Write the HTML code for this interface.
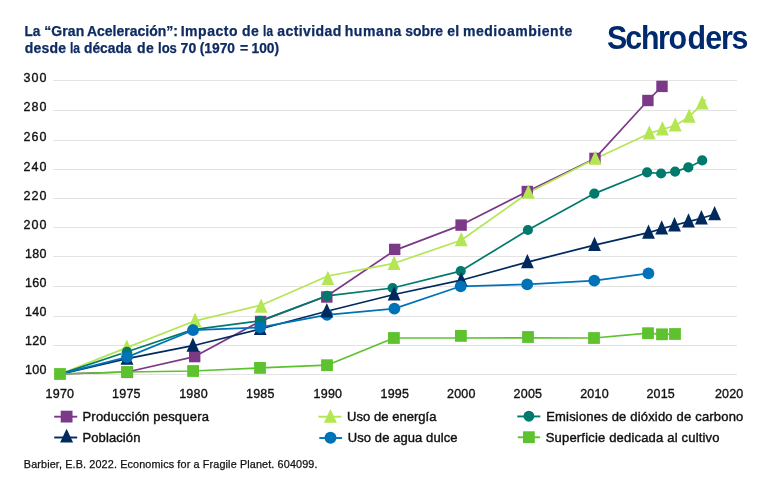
<!DOCTYPE html>
<html lang="es"><head><meta charset="utf-8"><title>La Gran Aceleración</title>
<style>html,body{margin:0;padding:0;background:#fff}svg{display:block}</style></head>
<body>
<svg width="771" height="493" viewBox="0 0 771 493">
<rect width="771" height="493" fill="#fff"/>
<line x1="52.5" x2="736.7" y1="80.5" y2="80.5" stroke="#e3e3e3" stroke-width="1" shape-rendering="crispEdges"/>
<line x1="52.5" x2="736.7" y1="110.5" y2="110.5" stroke="#e3e3e3" stroke-width="1" shape-rendering="crispEdges"/>
<line x1="52.5" x2="736.7" y1="140.5" y2="140.5" stroke="#e3e3e3" stroke-width="1" shape-rendering="crispEdges"/>
<line x1="52.5" x2="736.7" y1="169.5" y2="169.5" stroke="#e3e3e3" stroke-width="1" shape-rendering="crispEdges"/>
<line x1="52.5" x2="736.7" y1="198.5" y2="198.5" stroke="#e3e3e3" stroke-width="1" shape-rendering="crispEdges"/>
<line x1="52.5" x2="736.7" y1="227.5" y2="227.5" stroke="#e3e3e3" stroke-width="1" shape-rendering="crispEdges"/>
<line x1="52.5" x2="736.7" y1="256.5" y2="256.5" stroke="#e3e3e3" stroke-width="1" shape-rendering="crispEdges"/>
<line x1="52.5" x2="736.7" y1="286.5" y2="286.5" stroke="#e3e3e3" stroke-width="1" shape-rendering="crispEdges"/>
<line x1="52.5" x2="736.7" y1="316.5" y2="316.5" stroke="#e3e3e3" stroke-width="1" shape-rendering="crispEdges"/>
<line x1="52.5" x2="736.7" y1="345.5" y2="345.5" stroke="#e3e3e3" stroke-width="1" shape-rendering="crispEdges"/>
<line x1="52.5" x2="736.7" y1="374.5" y2="374.5" stroke="#e3e3e3" stroke-width="1" shape-rendering="crispEdges"/>
<polyline points="60.0,374.0 127.0,372.0 194.7,356.6 260.4,321.1 327.0,296.0 394.7,250.4 461.1,225.1 527.3,191.5 595.0,158.4 647.9,100.5 662.0,86.4" fill="none" stroke="#7b3988" stroke-width="1.7" stroke-linejoin="round"/>
<polyline points="60.1,374.1 126.8,347.6 195.1,320.8 261.1,305.2 327.9,276.0 394.1,263.3 461.2,240.2 528.4,192.7 595.2,158.7 649.3,133.4 662.4,129.3 675.3,125.6 689.2,116.7 702.2,103.6 705.6,99.5" fill="none" stroke="#b4e653" stroke-width="1.7" stroke-linejoin="round"/>
<polyline points="60.1,374.1 127.0,351.8 193.0,329.6 260.2,320.9 327.0,295.8 392.6,288.0 460.7,271.1 527.9,230.0 594.3,193.6 647.1,172.3 661.1,173.5 675.1,171.6 688.3,167.4 702.2,160.4" fill="none" stroke="#007a6c" stroke-width="1.7" stroke-linejoin="round"/>
<polyline points="60.1,374.1 127.0,358.6 192.9,345.7 260.2,329.0 326.8,311.3 394.1,294.5 461.2,280.2 527.4,262.1 594.5,245.1 648.5,232.7 661.7,228.6 674.5,225.3 688.5,221.6 701.4,218.3 714.6,214.2" fill="none" stroke="#002a5e" stroke-width="1.7" stroke-linejoin="round"/>
<polyline points="60.1,374.1 127.0,357.1 193.0,330.2 260.2,327.4 327.0,314.8 394.4,308.6 460.7,286.3 527.2,284.4 594.3,280.6 648.4,273.4" fill="none" stroke="#0072b8" stroke-width="1.7" stroke-linejoin="round"/>
<polyline points="60.0,374.0 127.0,372.0 193.1,371.0 260.0,367.9 327.0,365.2 393.9,338.0 460.9,338.0 528.0,337.8 594.0,338.0 648.0,333.2 662.0,334.3 675.0,334.0" fill="none" stroke="#5ec22f" stroke-width="1.7" stroke-linejoin="round"/>
<rect x="54.10" y="368.10" width="11.8" height="11.8" fill="#5ec22f"/>
<rect x="121.70" y="366.70" width="11.4" height="11.4" fill="#7b3988"/>
<polygon points="126.80,339.40 133.20,353.70 120.40,353.70" fill="#b4e653"/>
<circle cx="127.00" cy="351.80" r="5.1" fill="#007a6c"/>
<polygon points="127.00,350.40 133.40,364.70 120.60,364.70" fill="#002a5e"/>
<circle cx="127.00" cy="357.10" r="5.9" fill="#0072b8"/>
<rect x="121.10" y="366.10" width="11.8" height="11.8" fill="#5ec22f"/>
<rect x="189.00" y="350.90" width="11.4" height="11.4" fill="#7b3988"/>
<polygon points="195.10,312.60 201.50,326.90 188.70,326.90" fill="#b4e653"/>
<circle cx="193.00" cy="329.60" r="5.1" fill="#007a6c"/>
<polygon points="192.90,337.50 199.30,351.80 186.50,351.80" fill="#002a5e"/>
<circle cx="193.00" cy="330.20" r="5.9" fill="#0072b8"/>
<rect x="187.20" y="365.10" width="11.8" height="11.8" fill="#5ec22f"/>
<rect x="254.90" y="315.80" width="11.4" height="11.4" fill="#7b3988"/>
<polygon points="261.10,298.40 267.50,312.70 254.70,312.70" fill="#b4e653"/>
<circle cx="260.20" cy="320.90" r="5.1" fill="#007a6c"/>
<polygon points="260.20,320.80 266.60,335.10 253.80,335.10" fill="#002a5e"/>
<circle cx="260.20" cy="327.40" r="5.9" fill="#0072b8"/>
<rect x="254.10" y="362.00" width="11.8" height="11.8" fill="#5ec22f"/>
<rect x="321.10" y="291.30" width="11.4" height="11.4" fill="#7b3988"/>
<polygon points="327.90,270.80 334.30,285.10 321.50,285.10" fill="#b4e653"/>
<circle cx="327.00" cy="295.80" r="5.1" fill="#007a6c"/>
<circle cx="327.00" cy="314.80" r="5.9" fill="#0072b8"/>
<polygon points="326.80,303.10 333.20,317.40 320.40,317.40" fill="#002a5e"/>
<rect x="321.10" y="359.30" width="11.8" height="11.8" fill="#5ec22f"/>
<rect x="389.00" y="243.70" width="11.4" height="11.4" fill="#7b3988"/>
<polygon points="394.10,255.60 400.50,269.90 387.70,269.90" fill="#b4e653"/>
<circle cx="392.60" cy="288.00" r="5.1" fill="#007a6c"/>
<polygon points="394.10,286.30 400.50,300.60 387.70,300.60" fill="#002a5e"/>
<circle cx="394.40" cy="308.60" r="5.9" fill="#0072b8"/>
<rect x="388.00" y="332.10" width="11.8" height="11.8" fill="#5ec22f"/>
<rect x="455.40" y="219.40" width="11.4" height="11.4" fill="#7b3988"/>
<polygon points="461.20,232.00 467.60,246.30 454.80,246.30" fill="#b4e653"/>
<circle cx="460.70" cy="271.10" r="5.1" fill="#007a6c"/>
<polygon points="461.20,272.00 467.60,286.30 454.80,286.30" fill="#002a5e"/>
<circle cx="460.70" cy="286.30" r="5.9" fill="#0072b8"/>
<rect x="455.00" y="330.00" width="11.8" height="11.8" fill="#5ec22f"/>
<rect x="521.60" y="185.80" width="11.4" height="11.4" fill="#7b3988"/>
<polygon points="528.40,184.40 534.80,198.70 522.00,198.70" fill="#b4e653"/>
<circle cx="527.90" cy="230.00" r="5.1" fill="#007a6c"/>
<polygon points="527.40,253.90 533.80,268.20 521.00,268.20" fill="#002a5e"/>
<circle cx="527.20" cy="284.40" r="5.9" fill="#0072b8"/>
<rect x="522.10" y="331.10" width="11.8" height="11.8" fill="#5ec22f"/>
<rect x="589.30" y="152.70" width="11.4" height="11.4" fill="#7b3988"/>
<polygon points="595.20,150.40 601.60,164.70 588.80,164.70" fill="#b4e653"/>
<circle cx="594.30" cy="193.60" r="5.1" fill="#007a6c"/>
<polygon points="594.50,236.80 600.90,251.10 588.10,251.10" fill="#002a5e"/>
<circle cx="594.30" cy="280.60" r="5.9" fill="#0072b8"/>
<rect x="588.10" y="332.10" width="11.8" height="11.8" fill="#5ec22f"/>
<rect x="642.20" y="94.80" width="11.4" height="11.4" fill="#7b3988"/>
<polygon points="649.30,125.20 655.70,139.50 642.90,139.50" fill="#b4e653"/>
<circle cx="647.10" cy="172.30" r="5.1" fill="#007a6c"/>
<polygon points="648.50,224.40 654.90,238.70 642.10,238.70" fill="#002a5e"/>
<circle cx="648.40" cy="273.40" r="5.9" fill="#0072b8"/>
<rect x="642.10" y="327.30" width="11.8" height="11.8" fill="#5ec22f"/>
<rect x="656.30" y="80.70" width="11.4" height="11.4" fill="#7b3988"/>
<polygon points="662.40,121.10 668.80,135.40 656.00,135.40" fill="#b4e653"/>
<circle cx="661.10" cy="173.50" r="5.1" fill="#007a6c"/>
<polygon points="661.70,220.30 668.10,234.60 655.30,234.60" fill="#002a5e"/>
<rect x="656.10" y="328.40" width="11.8" height="11.8" fill="#5ec22f"/>
<polygon points="675.30,117.30 681.70,131.60 668.90,131.60" fill="#b4e653"/>
<circle cx="675.10" cy="171.60" r="5.1" fill="#007a6c"/>
<polygon points="674.50,217.10 680.90,231.40 668.10,231.40" fill="#002a5e"/>
<rect x="669.10" y="328.10" width="11.8" height="11.8" fill="#5ec22f"/>
<polygon points="689.20,108.40 695.60,122.70 682.80,122.70" fill="#b4e653"/>
<circle cx="688.30" cy="167.40" r="5.1" fill="#007a6c"/>
<polygon points="688.50,213.30 694.90,227.60 682.10,227.60" fill="#002a5e"/>
<polygon points="702.20,95.30 708.60,109.60 695.80,109.60" fill="#b4e653"/>
<circle cx="702.20" cy="160.40" r="5.1" fill="#007a6c"/>
<polygon points="701.40,210.10 707.80,224.40 695.00,224.40" fill="#002a5e"/>
<polygon points="714.60,206.00 721.00,220.30 708.20,220.30" fill="#002a5e"/>
<text x="23.5" y="81.9" font-family="Liberation Sans, Arial, sans-serif" font-size="12.5" fill="#111" stroke="#111" stroke-width="0.35" textLength="22.9">300</text>
<text x="23.5" y="111.0" font-family="Liberation Sans, Arial, sans-serif" font-size="12.5" fill="#111" stroke="#111" stroke-width="0.35" textLength="22.9">280</text>
<text x="23.5" y="141.0" font-family="Liberation Sans, Arial, sans-serif" font-size="12.5" fill="#111" stroke="#111" stroke-width="0.35" textLength="22.9">260</text>
<text x="23.5" y="171.0" font-family="Liberation Sans, Arial, sans-serif" font-size="12.5" fill="#111" stroke="#111" stroke-width="0.35" textLength="22.9">240</text>
<text x="23.5" y="199.8" font-family="Liberation Sans, Arial, sans-serif" font-size="12.5" fill="#111" stroke="#111" stroke-width="0.35" textLength="22.9">220</text>
<text x="23.5" y="229.0" font-family="Liberation Sans, Arial, sans-serif" font-size="12.5" fill="#111" stroke="#111" stroke-width="0.35" textLength="22.9">200</text>
<text x="25.0" y="257.7" font-family="Liberation Sans, Arial, sans-serif" font-size="12.5" fill="#111" stroke="#111" stroke-width="0.35" textLength="21.4">180</text>
<text x="25.0" y="286.9" font-family="Liberation Sans, Arial, sans-serif" font-size="12.5" fill="#111" stroke="#111" stroke-width="0.35" textLength="21.4">160</text>
<text x="25.0" y="316.4" font-family="Liberation Sans, Arial, sans-serif" font-size="12.5" fill="#111" stroke="#111" stroke-width="0.35" textLength="21.4">140</text>
<text x="25.0" y="344.9" font-family="Liberation Sans, Arial, sans-serif" font-size="12.5" fill="#111" stroke="#111" stroke-width="0.35" textLength="21.4">120</text>
<text x="25.0" y="374.1" font-family="Liberation Sans, Arial, sans-serif" font-size="12.5" fill="#111" stroke="#111" stroke-width="0.35" textLength="21.4">100</text>
<text x="45.6" y="398.1" font-family="Liberation Sans, Arial, sans-serif" font-size="12.5" fill="#111" stroke="#111" stroke-width="0.35" textLength="28.4">1970</text>
<text x="112.1" y="398.1" font-family="Liberation Sans, Arial, sans-serif" font-size="12.5" fill="#111" stroke="#111" stroke-width="0.35" textLength="28.4">1975</text>
<text x="179.2" y="398.1" font-family="Liberation Sans, Arial, sans-serif" font-size="12.5" fill="#111" stroke="#111" stroke-width="0.35" textLength="28.4">1980</text>
<text x="246.0" y="398.1" font-family="Liberation Sans, Arial, sans-serif" font-size="12.5" fill="#111" stroke="#111" stroke-width="0.35" textLength="28.4">1985</text>
<text x="313.6" y="398.1" font-family="Liberation Sans, Arial, sans-serif" font-size="12.5" fill="#111" stroke="#111" stroke-width="0.35" textLength="28.4">1990</text>
<text x="380.5" y="398.1" font-family="Liberation Sans, Arial, sans-serif" font-size="12.5" fill="#111" stroke="#111" stroke-width="0.35" textLength="28.4">1995</text>
<text x="447.0" y="398.1" font-family="Liberation Sans, Arial, sans-serif" font-size="12.5" fill="#111" stroke="#111" stroke-width="0.35" textLength="28.4">2000</text>
<text x="513.6" y="398.1" font-family="Liberation Sans, Arial, sans-serif" font-size="12.5" fill="#111" stroke="#111" stroke-width="0.35" textLength="28.4">2005</text>
<text x="580.2" y="398.1" font-family="Liberation Sans, Arial, sans-serif" font-size="12.5" fill="#111" stroke="#111" stroke-width="0.35" textLength="28.4">2010</text>
<text x="646.4" y="398.1" font-family="Liberation Sans, Arial, sans-serif" font-size="12.5" fill="#111" stroke="#111" stroke-width="0.35" textLength="28.4">2015</text>
<text x="714.9" y="398.1" font-family="Liberation Sans, Arial, sans-serif" font-size="12.5" fill="#111" stroke="#111" stroke-width="0.35" textLength="28.4">2020</text>
<line x1="54.2" x2="77.2" y1="416.7" y2="416.7" stroke="#7b3988" stroke-width="1.9"/><rect x="60.70" y="410.70" width="11.8" height="11.8" fill="#7b3988"/><text x="82.5" y="420.7" font-family="Liberation Sans, Arial, sans-serif" font-size="13" fill="#111" stroke="#111" stroke-width="0.4" textLength="126.4">Producción pesquera</text>
<line x1="54.2" x2="77.2" y1="437.5" y2="437.5" stroke="#002a5e" stroke-width="1.9"/><polygon points="66.6,428.70 73.10,442.60 60.10,442.60" fill="#002a5e"/><text x="82.5" y="441.5" font-family="Liberation Sans, Arial, sans-serif" font-size="13" fill="#111" stroke="#111" stroke-width="0.4" textLength="57.9">Población</text>
<line x1="318.4" x2="341.4" y1="416.7" y2="416.7" stroke="#b4e653" stroke-width="1.9"/><polygon points="330.4,408.90 336.90,422.80 323.90,422.80" fill="#b4e653"/><text x="347.1" y="420.7" font-family="Liberation Sans, Arial, sans-serif" font-size="13" fill="#111" stroke="#111" stroke-width="0.4" textLength="89.4">Uso de energía</text>
<line x1="319.3" x2="342.1" y1="438.0" y2="438.0" stroke="#0072b8" stroke-width="1.9"/><circle cx="330.5" cy="437.75" r="6.0" fill="#0072b8"/><text x="347.8" y="442.3" font-family="Liberation Sans, Arial, sans-serif" font-size="13" fill="#111" stroke="#111" stroke-width="0.4" textLength="109.7">Uso de agua dulce</text>
<line x1="517.3" x2="540.3" y1="416.45" y2="416.45" stroke="#007a6c" stroke-width="1.9"/><circle cx="528.9" cy="416.2" r="5.45" fill="#007a6c"/><text x="546.2" y="420.7" font-family="Liberation Sans, Arial, sans-serif" font-size="13" fill="#111" stroke="#111" stroke-width="0.4" textLength="197.1">Emisiones de dióxido de carbono</text>
<line x1="517.8" x2="540.1" y1="437.3" y2="437.3" stroke="#5ec22f" stroke-width="1.9"/><rect x="523.00" y="431.30" width="11.8" height="11.8" fill="#5ec22f"/><text x="545.7" y="441.6" font-family="Liberation Sans, Arial, sans-serif" font-size="13" fill="#111" stroke="#111" stroke-width="0.4" textLength="173.8">Superficie dedicada al cultivo</text>
<text x="23.8" y="467.6" font-family="Liberation Sans, Arial, sans-serif" font-size="10.8" fill="#111" stroke="#111" stroke-width="0.25" textLength="293.7">Barbier, E.B. 2022. Economics for a Fragile Planet. 604099.</text>
<text y="36.0" font-family="Liberation Sans, Arial, sans-serif" font-size="14" font-weight="bold" fill="#0f2b63" stroke="#0f2b63" stroke-width="0.25"><tspan x="24.5" textLength="15.9" lengthAdjust="spacingAndGlyphs">La</tspan> <tspan x="44.3" textLength="40.0">“Gran</tspan> <tspan x="86.9" textLength="91.1">Aceleración”:</tspan> <tspan x="180.7" textLength="56.8">Impacto</tspan> <tspan x="241.9" textLength="17.0">de</tspan> <tspan x="263.1" textLength="9.9" lengthAdjust="spacingAndGlyphs">la</tspan> <tspan x="277.2" textLength="64.1">actividad</tspan> <tspan x="344.7" textLength="56.7">humana</tspan> <tspan x="405.2" textLength="37.9" lengthAdjust="spacingAndGlyphs">sobre</tspan> <tspan x="447.3" textLength="11.8">el</tspan> <tspan x="462.9" textLength="109.3">medioambiente</tspan></text>
<text y="52.9" font-family="Liberation Sans, Arial, sans-serif" font-size="14" font-weight="bold" fill="#0f2b63" stroke="#0f2b63" stroke-width="0.25"><tspan x="24.7" textLength="41.4">desde</tspan> <tspan x="70.0" textLength="10.1" lengthAdjust="spacingAndGlyphs">la</tspan> <tspan x="84.0" textLength="47.5" lengthAdjust="spacingAndGlyphs">década</tspan> <tspan x="137.1" textLength="16.6">de</tspan> <tspan x="158.0" textLength="18.9" lengthAdjust="spacingAndGlyphs">los</tspan> <tspan x="180.5" textLength="15.8">70</tspan> <tspan x="199.7" textLength="35.3" lengthAdjust="spacingAndGlyphs">(1970</tspan> <tspan x="239.9" textLength="8.3">=</tspan> <tspan x="251.5" textLength="27.5" lengthAdjust="spacingAndGlyphs">100)</tspan></text>
<text transform="scale(0.92,1)" x="659.76 679.63 696.69 715.35 726.77 747.23 766.67 783.72 795.05" y="49.5" font-family="Liberation Sans, Arial, sans-serif" font-size="33" font-weight="bold" fill="#002a6e">Schroders</text>
</svg>
</body></html>
